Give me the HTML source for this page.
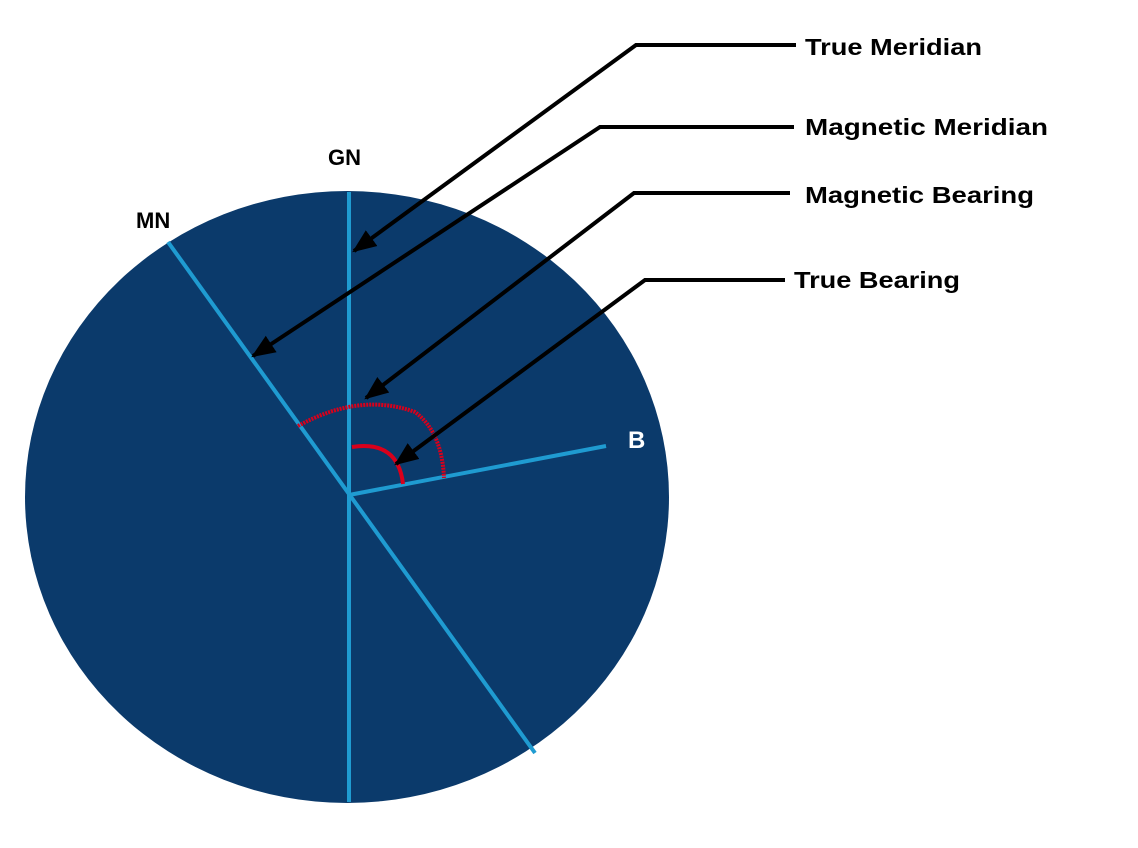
<!DOCTYPE html>
<html><head><meta charset="utf-8"><style>
html,body{margin:0;padding:0;background:#fff;}
svg{display:block;font-family:"Liberation Sans",Arial,sans-serif;font-weight:bold;}
</style></head><body>
<svg width="1138" height="848" viewBox="0 0 1138 848">
<defs>
<marker id="ah" markerWidth="24" markerHeight="20" refX="20" refY="9" orient="auto" markerUnits="userSpaceOnUse" viewBox="0 0 22 18">
<path d="M0,0 L22,9 L0,18 z" fill="#000"/>
</marker>
</defs>
<ellipse cx="347" cy="497" rx="322" ry="306" fill="#0b3a6b"/>
<line x1="349" y1="192" x2="349" y2="802" stroke="#1f9bd1" stroke-width="4"/>
<line x1="168" y1="242" x2="535" y2="753" stroke="#1f9bd1" stroke-width="4"/>
<line x1="349" y1="495" x2="606" y2="446" stroke="#1f9bd1" stroke-width="4"/>
<path d="M298,426 Q360,392 415,412 Q442,432 444,478" fill="none" stroke="#d9001b" stroke-width="4" stroke-dasharray="2 1"/>
<path d="M352,447 Q398,440 403,484" fill="none" stroke="#d9001b" stroke-width="4"/>
<g stroke="#000" stroke-width="4" fill="none">
<polyline points="796,45 636,45 354,251" marker-end="url(#ah)"/>
<polyline points="794,127 600,127 253,356" marker-end="url(#ah)"/>
<polyline points="790,193 634,193 366,398" marker-end="url(#ah)"/>
<polyline points="785,280 645,280 396,464" marker-end="url(#ah)"/>
</g>
<text x="805" y="55" font-size="23" textLength="177" lengthAdjust="spacingAndGlyphs">True Meridian</text>
<text x="805" y="135" font-size="23" textLength="243" lengthAdjust="spacingAndGlyphs">Magnetic Meridian</text>
<text x="805" y="203" font-size="23" textLength="229" lengthAdjust="spacingAndGlyphs">Magnetic Bearing</text>
<text x="794" y="288" font-size="23" textLength="166" lengthAdjust="spacingAndGlyphs">True Bearing</text>
<text x="328" y="165" font-size="22">GN</text>
<text x="136" y="228" font-size="22">MN</text>
<text x="628" y="448" font-size="24" fill="#fff">B</text>
</svg>
</body></html>
